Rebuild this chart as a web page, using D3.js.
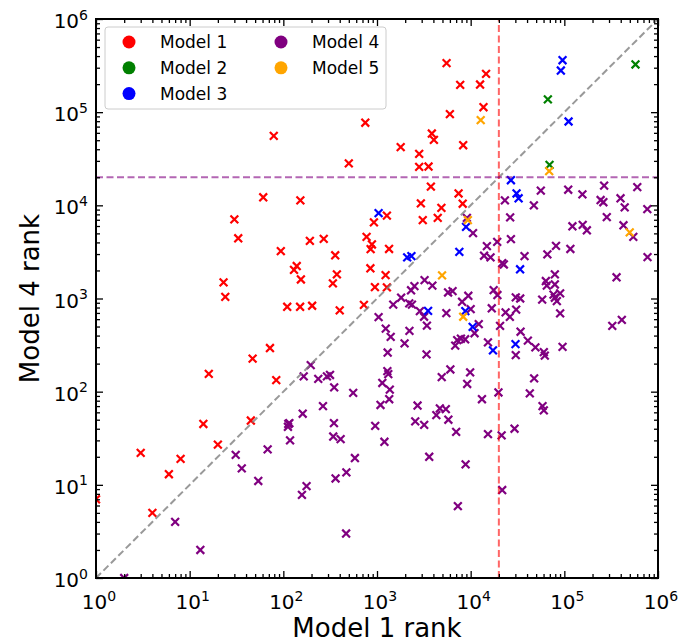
<!DOCTYPE html>
<html>
<head>
<meta charset="utf-8">
<script src="https://cdn.jsdelivr.net/npm/d3@7"></script>
<style>
  body { margin: 0; background: #fff; }
  svg { display: block; font-family: "DejaVu Sans", sans-serif; }
</style>
</head>
<body>
<div id="chart"></div>
<script>
// rank pairs [Model 1 rank, Model 4 rank]
const model1 = [
  [1, 7], [3, 22], [4, 5], [6, 13], [8, 19], [14, 45], [20, 27], [45, 49], [16, 155], [47, 226],
  [72, 294], [84, 133], [400, 745], [23, 1490], [24, 1040], [30, 7060], [33, 4430], [61, 12200],
  [152, 11300], [79, 55700], [750, 77000], [500, 28200], [94, 3220], [192, 4150], [270, 4370],
  [358, 2910], [139, 2230], [130, 2030], [154, 1600], [373, 1815], [338, 1455], [110, 815],
  [151, 815], [203, 836], [774, 4590], [883, 3800], [855, 3390], [927, 6560], [850, 2110],
  [950, 1325], [725, 854], [1275, 7750], [1345, 3400], [1235, 1780], [1275, 1315],
  [2940, 10500], [4870, 9380], [8220, 10400], [3080, 6930], [4450, 7340], [3760, 15900],
  [7430, 13400], [5530, 336000], [14600, 258000], [7730, 196000], [12600, 198000],
  [13700, 113000], [6000, 95300], [3850, 59000], [4050, 50400], [1790, 42100], [2820, 35700],
  [8320, 44200], [2820, 25900], [3550, 26100]
];
const model2 = [[575000, 325000], [66700, 137000], [69500, 27200]];
const model3 = [
  [95700, 361000], [91800, 280000], [111000, 79400], [26900, 18600], [30900, 13400],
  [32500, 11900], [1040, 8250], [2100, 2760], [2330, 2850], [7570, 3170], [8930, 5880],
  [33700, 2060], [3510, 736], [8770, 732], [10500, 496], [17300, 277], [30100, 324]
];
const model4 = [
  [2, 1], [7, 4], [13, 2], [31, 21], [36, 15], [54, 11], [68, 24], [113, 45], [116, 46], [112, 42],
  [118, 30], [161, 58], [177, 9.7], [158, 7.8], [265, 70], [347, 46], [341, 33], [409, 31],
  [361, 11.7], [471, 13.6], [468, 3], [581, 19.4], [557, 97], [957, 43], [1090, 72], [1350, 83],
  [1200, 29], [196, 193], [165, 146], [236, 137], [292, 146], [315, 151], [349, 111], [1040, 631],
  [1810, 1020], [2210, 885], [2360, 860], [1490, 860], [2870, 733], [3180, 637], [3410, 512],
  [1240, 475], [1400, 388], [2220, 449], [1970, 330], [1300, 263], [3380, 251],
  [5500, 697], [5740, 1160], [6410, 1200], [9440, 1070], [8100, 922], [10000, 769], [12200, 531],
  [11000, 424], [6840, 312], [7180, 358], [7870, 370], [8730, 365], [15300, 338], [17600, 1230],
  [19300, 1090], [16800, 785], [20600, 509], [23600, 709], [26200, 635], [30600, 760],
  [1290, 166], [1320, 154], [1140, 124], [1370, 105], [2710, 71], [2560, 48], [3190, 44],
  [4300, 56], [4690, 66], [5430, 65], [5780, 50], [7000, 37], [3610, 20], [8830, 16.6],
  [4910, 143], [6070, 173], [9870, 161], [9180, 121], [13200, 83], [19800, 98], [15300, 35],
  [21400, 34], [29400, 40], [58500, 70], [60400, 63], [42800, 96], [47600, 139], [21700, 8.8],
  [7300, 5.9], [30300, 247], [40800, 353], [49100, 299], [60400, 266], [61900, 244],
  [95700, 303], [34100, 440], [90200, 692], [325000, 509], [411000, 589],
  [58000, 973], [76700, 1100], [90200, 1135], [79200, 1020], [83200, 938], [30300, 1030],
  [33800, 1000], [63500, 1540], [65000, 1375], [79200, 1815], [79200, 1415], [361000, 1690],
  [773000, 2780], [21700, 2400], [22600, 2320], [37600, 2850], [65900, 2980], [81500, 3670],
  [116000, 3400], [26900, 4340], [26400, 7430], [122000, 5960], [157000, 6180], [174000, 5400],
  [284000, 7480], [428000, 6110], [545000, 4590], [769000, 9100],
  [23200, 11300], [56100, 14400], [47300, 10000], [110000, 14700], [156000, 13100],
  [266000, 16300], [244000, 11400], [261000, 10800], [398000, 11900], [441000, 9500],
  [601000, 15700], [10600, 5040], [9110, 7340], [14900, 3650], [13900, 2880], [16300, 2760],
  [19200, 4060], [3220, 1575], [3900, 1375], [2510, 1360], [2310, 1225]
];
const model5 = [
  [12800, 82000], [68900, 23300], [9330, 6930], [4950, 1770], [8320, 637], [499000, 5130]
];

const seriesNames = ["Model 1", "Model 2", "Model 3", "Model 4", "Model 5"];
const seriesColors = ["red", "green", "blue", "purple", "orange"];
const seriesData = [model1, model2, model3, model4, model5];
const drawOrder = [3, 0, 1, 2, 4];
const majorTicks = [1, 10, 100, 1000, 10000, 100000, 1000000];
const threshold = 20000;

const width = 686;
const height = 642;
const margin = { top: 19, right: 28, bottom: 64, left: 96 };

const svg = d3
  .select("#chart")
  .append("svg")
  .attr("width", width)
  .attr("height", height);

const x = d3
  .scaleLog()
  .domain([1, 1e6])
  .range([margin.left, width - margin.right]);

const y = d3
  .scaleLog()
  .domain([1, 1e6])
  .range([height - margin.bottom, margin.top]);

const minorTicks = [];
majorTicks.slice(0, -1).forEach((d) => {
  for (let k = 2; k <= 9; k++) minorTicks.push(d * k);
});

svg
  .append("clipPath")
  .attr("id", "plot-clip")
  .append("rect")
  .attr("x", margin.left)
  .attr("y", margin.top)
  .attr("width", x.range()[1] - x.range()[0])
  .attr("height", y.range()[0] - y.range()[1]);

// points
const marker = "M-3.9,-3.9L3.9,3.9M-3.9,3.9L3.9,-3.9";
const pts = svg.append("g").attr("clip-path", "url(#plot-clip)");
drawOrder.forEach((i) => {
  pts
    .append("g")
    .selectAll("path")
    .data(seriesData[i])
    .join("path")
    .attr("transform", (d) => `translate(${x(d[0])},${y(d[1])})`)
    .attr("d", marker)
    .attr("stroke", seriesColors[i])
    .attr("stroke-width", 2.2)
    .attr("fill", "none");
});

// reference lines
const lines = svg.append("g").attr("clip-path", "url(#plot-clip)").attr("fill", "none");
lines
  .append("line")
  .attr("x1", x(1)).attr("y1", y(1))
  .attr("x2", x(1e6)).attr("y2", y(1e6))
  .attr("stroke", "gray")
  .attr("stroke-opacity", 0.8)
  .attr("stroke-width", 2)
  .attr("stroke-dasharray", "7,3.5");
lines
  .append("line")
  .attr("x1", x(threshold)).attr("y1", y(1))
  .attr("x2", x(threshold)).attr("y2", y(1e6))
  .attr("stroke", "red")
  .attr("stroke-opacity", 0.6)
  .attr("stroke-width", 2)
  .attr("stroke-dasharray", "7,3.5");
lines
  .append("line")
  .attr("x1", x(1)).attr("y1", y(threshold))
  .attr("x2", x(1e6)).attr("y2", y(threshold))
  .attr("stroke", "purple")
  .attr("stroke-opacity", 0.6)
  .attr("stroke-width", 2)
  .attr("stroke-dasharray", "7,3.5");

// axes: ticks point inward on all four sides
const x0 = height - margin.bottom;
const x1 = margin.top;
const y0 = margin.left;
const y1 = width - margin.right;

const addAxis = (axisFn, scale, pos, values, size) => {
  const g = svg
    .append("g")
    .attr("transform", pos)
    .call(axisFn(scale).tickValues(values).tickSize(size).tickFormat(""));
  g.select(".domain").remove();
  g.selectAll(".tick line").attr("stroke", "#000").attr("stroke-width", 1.3);
  return g;
};

addAxis(d3.axisBottom, x, `translate(0,${x0})`, majorTicks, -7);
addAxis(d3.axisBottom, x, `translate(0,${x0})`, minorTicks, -4);
addAxis(d3.axisTop, x, `translate(0,${x1})`, majorTicks, -7);
addAxis(d3.axisTop, x, `translate(0,${x1})`, minorTicks, -4);
addAxis(d3.axisLeft, y, `translate(${y0},0)`, majorTicks, -7);
addAxis(d3.axisLeft, y, `translate(${y0},0)`, minorTicks, -4);
addAxis(d3.axisRight, y, `translate(${y1},0)`, majorTicks, -7);
addAxis(d3.axisRight, y, `translate(${y1},0)`, minorTicks, -4);

svg
  .append("rect")
  .attr("x", margin.left)
  .attr("y", margin.top)
  .attr("width", y1 - y0)
  .attr("height", x0 - x1)
  .attr("fill", "none")
  .attr("stroke", "#000")
  .attr("stroke-width", 2);

// tick labels with superscript exponents
const expLabel = (sel) => {
  sel.text("10");
  sel
    .append("tspan")
    .attr("dy", -8.5)
    .attr("font-size", 14)
    .text((d) => Math.round(Math.log10(d)));
};

svg
  .append("g")
  .selectAll("text")
  .data(majorTicks)
  .join("text")
  .attr("x", (d) => x(d) + 3)
  .attr("y", x0 + 31)
  .attr("text-anchor", "middle")
  .attr("font-size", 20)
  .call(expLabel);

svg
  .append("g")
  .selectAll("text")
  .data(majorTicks)
  .join("text")
  .attr("x", y0 - 8)
  .attr("y", (d) => y(d) + 9)
  .attr("text-anchor", "end")
  .attr("font-size", 20)
  .call(expLabel);

svg
  .append("text")
  .attr("x", (y0 + y1) / 2)
  .attr("y", 637)
  .attr("text-anchor", "middle")
  .attr("font-size", 26)
  .text("Model 1 rank");

svg
  .append("text")
  .attr("transform", `translate(39,${(x0 + x1) / 2}) rotate(-90)`)
  .attr("text-anchor", "middle")
  .attr("font-size", 26)
  .text("Model 4 rank");

// legend
const legend = svg.append("g");
legend
  .append("rect")
  .attr("x", 105)
  .attr("y", 27)
  .attr("width", 281)
  .attr("height", 82)
  .attr("rx", 3)
  .attr("fill", "#fff")
  .attr("fill-opacity", 0.85)
  .attr("stroke", "#ccc");

const item = legend
  .selectAll("g")
  .data(seriesNames)
  .join("g")
  .attr("transform", (d, i) => {
    const col = i < 3 ? 0 : 1;
    const row = i < 3 ? i : i - 3;
    return `translate(${129 + col * 152},${42 + row * 25.8})`;
  });

item
  .append("circle")
  .attr("r", 6.5)
  .attr("fill", (d, i) => seriesColors[i]);

item
  .append("text")
  .attr("x", 31)
  .attr("y", 6)
  .attr("font-size", 17)
  .text((d) => d);
</script>
</body>
</html>
